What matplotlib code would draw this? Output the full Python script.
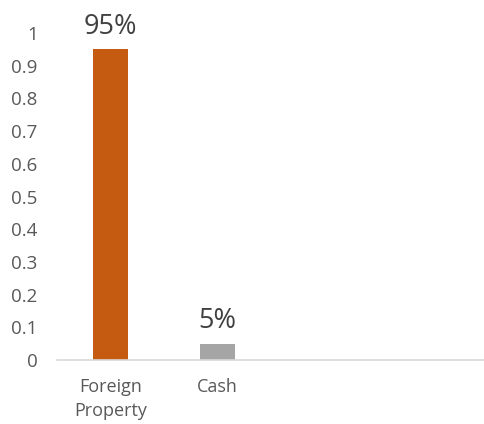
import numpy as np
import matplotlib.pyplot as plt

plt.rcParams['font.family'] = ['Open Sans', 'DejaVu Sans']

categories = ['Foreign\nProperty', 'Cash', '', '']
values = [0.95, 0.05, 0, 0]
labels = ['95%', '5%', '', '']
colors = ['#C55A11', '#A5A5A5', '#A5A5A5', '#A5A5A5']
y_ticks = [0, 0.1, 0.2, 0.3, 0.4, 0.5, 0.6, 0.7, 0.8, 0.9, 1]
y_tick_labels = ['0', '0.1', '0.2', '0.3', '0.4', '0.5', '0.6', '0.7', '0.8', '0.9', '1']

fig = plt.figure(figsize=(4.85, 4.24), dpi=100)
ax = fig.add_axes([57/485, 1 - 360/424, 1 - 57/485, (360 - 33)/424])

x = np.arange(len(categories))
ax.bar(x[:2], values[:2], width=0.32, color=colors[:2])
for xi, v, lab in zip(x, values, labels):
    if lab:
        ax.text(xi, v + 0.025, lab, ha='center', va='bottom', fontsize=19.5, color='#404040')

ax.set_xlim(-0.5, len(categories) - 0.5)
ax.set_ylim(0, 1)
ax.set_xticks(x)
ax.set_xticklabels(categories, fontsize=13, color='#595959', linespacing=1.45)
ax.set_yticks(y_ticks)
ax.set_yticklabels(y_tick_labels, fontsize=13.5, color='#595959')

for s in ['top', 'right', 'left']:
    ax.spines[s].set_visible(False)
ax.spines['bottom'].set_color('#D9D9D9')
ax.spines['bottom'].set_linewidth(1.2)
ax.tick_params(axis='both', length=0)
ax.tick_params(axis='y', pad=14)
ax.tick_params(axis='x', pad=13)

fig.savefig('out.png', dpi=100)
